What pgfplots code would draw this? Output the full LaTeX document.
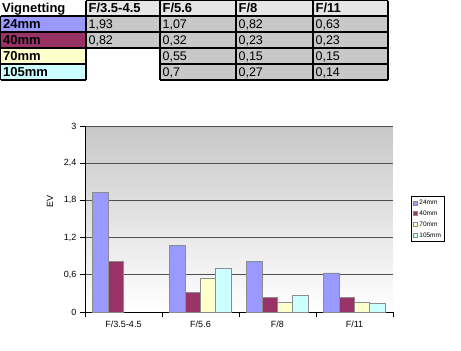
\documentclass[border=0pt]{standalone}
\usepackage{pgfplots}
\pgfplotsset{compat=1.18}
\usepackage{fontspec}
\setmainfont{Liberation Sans}
\definecolor{c24}{HTML}{9999FF}
\definecolor{c40}{HTML}{993366}
\definecolor{c70}{HTML}{FFFFCC}
\definecolor{c105}{HTML}{CCFFFF}
\definecolor{hdr}{HTML}{E6E6E6}
\definecolor{dat}{HTML}{C8C8C8}
\definecolor{bgtop}{HTML}{C8C8C8}
\definecolor{gridc}{HTML}{505050}
\definecolor{baredge}{HTML}{8C8C8C}
\begin{document}
\begin{tikzpicture}
\useasboundingbox (0,0) rectangle (461bp,-351bp);
\begin{scope}[x=1bp,y=-1bp,line width=1.2bp]
  % fills
  \fill[hdr] (86,0.6) rectangle (388,16);
  \fill[c24] (0.6,16) rectangle (86,32);
  \fill[c40] (0.6,32) rectangle (86,48);
  \fill[c70] (0.6,48) rectangle (86,64);
  \fill[c105] (0.6,64) rectangle (86,80);
  \fill[dat] (86,16) rectangle (388,48);
  \fill[dat] (160,48) rectangle (388,80);
  % lines
  \draw (86,0.6) -- (388,0.6);
  \draw (0.6,16) -- (388,16);
  \draw (0.6,32) -- (388,32);
  \draw (0.6,48) -- (388,48);
  \draw (0.6,64) -- (86,64);
  \draw (160,64) -- (388,64);
  \draw (0.6,80) -- (86,80);
  \draw (160,80) -- (388,80);
  \draw (0.6,16) -- (0.6,80);
  \draw (86,0.6) -- (86,80);
  \draw (160,0.6) -- (160,80);
  \draw (236,0.6) -- (236,80);
  \draw (313,0.6) -- (313,80);
  \draw (388,0.6) -- (388,80);
  % texts
  \begin{scope}[every node/.style={anchor=base west,inner sep=0pt,font=\fontsize{13bp}{14bp}\bfseries\selectfont}]
    \node at (1.5,12.8) {Vignetting};
    \node at (88,12.8) {F/3.5-4.5};
    \node at (162,12.8) {F/5.6};
    \node at (238,12.8) {F/8};
    \node at (315,12.8) {F/11};
    \node at (2.5,28.8) {24mm};
    \node at (2.5,44.8) {40mm};
    \node at (2.5,60.8) {70mm};
    \node at (2.5,76.8) {105mm};
  \end{scope}
  \begin{scope}[every node/.style={anchor=base west,inner sep=0pt,font=\fontsize{12.5bp}{14bp}\selectfont}]
    \node at (88,28.8) {1,93};
    \node at (162,28.8) {1,07};
    \node at (238,28.8) {0,82};
    \node at (315,28.8) {0,63};
    \node at (88,44.8) {0,82};
    \node at (162,44.8) {0,32};
    \node at (238,44.8) {0,23};
    \node at (315,44.8) {0,23};
    \node at (162,60.8) {0,55};
    \node at (238,60.8) {0,15};
    \node at (315,60.8) {0,15};
    \node at (162,76.8) {0,7};
    \node at (238,76.8) {0,27};
    \node at (315,76.8) {0,14};
  \end{scope}
\end{scope}
\begin{axis}[
  at={(85bp,-312bp)}, anchor=south west,
  scale only axis, width=308bp, height=186bp,
  xmin=-0.5, xmax=3.5, ymin=0, ymax=3,
  ybar=0pt, bar width=15.4bp,
  xtick={-0.5,0.5,1.5,2.5,3.5}, x tick label as interval,
  xticklabels={F/3.5-4.5,F/5.6,F/8,F/11},
  ytick={0,0.6,1.2,1.8,2.4,3},
  axis x line*=bottom, axis y line*=left,
  tick align=outside, major tick length=5bp,
  ymajorgrids, grid style={gridc, line width=1bp},
  axis line style={black, line width=0.8bp},
  tick style={black, line width=0.8bp},
  axis background/.style={top color=bgtop, bottom color=white},
  ticklabel style={font=\fontsize{9bp}{10bp}\selectfont},
  /pgf/number format/assume math mode=true,
  yticklabel style={/pgf/number format/.cd, use comma, fixed, precision=1},
  ylabel={EV},
  ylabel style={font=\fontsize{9bp}{10bp}\selectfont, at={(axis description cs:-0.1136,0.593)}, anchor=center},
  legend style={at={(1,0.5)}, anchor=west, xshift=18bp, draw=black, line width=0.8bp,
    font=\fontsize{6.5bp}{7bp}\selectfont, inner xsep=2bp, inner ysep=2bp, row sep=1.5bp,
    nodes={inner sep=1.5bp, text height=5bp, text depth=1.3bp}},
  legend cell align=left,
  legend image code/.code={\draw[#1, draw=baredge, line width=0.5bp] (0bp,-2bp) rectangle (4bp,2bp);},
  every axis plot/.append style={draw=baredge, line width=0.8bp},
]
\addplot[fill=c24] coordinates {(0,1.93) (1,1.07) (2,0.82) (3,0.63)};
\addplot[fill=c40] coordinates {(0,0.82) (1,0.32) (2,0.23) (3,0.23)};
\addplot[fill=c70] coordinates {(1,0.55) (2,0.15) (3,0.15)};
\addplot[fill=c105] coordinates {(1,0.7) (2,0.27) (3,0.14)};
\legend{24mm,40mm,70mm,105mm}
\end{axis}
\end{tikzpicture}
\end{document}
